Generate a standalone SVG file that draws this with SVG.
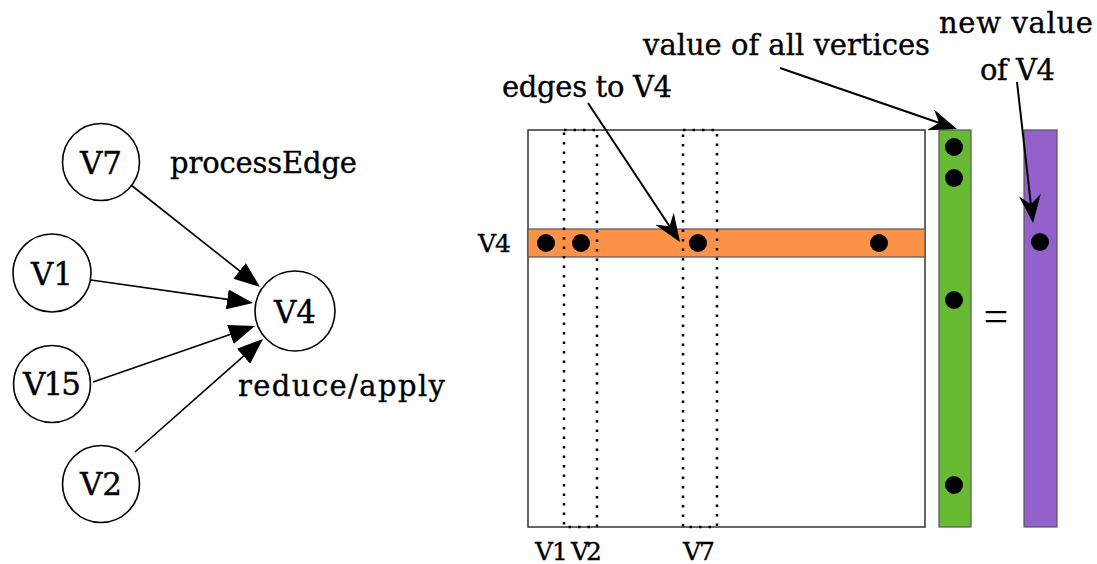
<svg xmlns="http://www.w3.org/2000/svg" width="1097" height="564" viewBox="0 0 1097 564">
<style>
text{font-family:"DejaVu Serif","Liberation Serif",serif;fill:#000;stroke:#000;stroke-width:0.35}
.node circle{fill:#fff;stroke:#000;stroke-width:1.6}
.nl{font-size:31px;text-anchor:middle}
.lbl{font-size:29px}
.sm{font-size:25px}
.edge{stroke:#000;stroke-width:1.6;fill:none}
.ptr{stroke:#000;stroke-width:2;fill:none}
.dot{fill:#000}
.dotted{fill:none;stroke:#000;stroke-width:2.5;stroke-dasharray:2.5 7}
</style>
<defs>
<marker id="tri" viewBox="0 0 26 20" refX="18" refY="10" markerWidth="26" markerHeight="20" markerUnits="userSpaceOnUse" orient="auto">
<path d="M0,0 L26,10 L0,20 Z" fill="#000"/>
</marker>
<marker id="barb" viewBox="0 0 28 22" refX="18" refY="11" markerWidth="28" markerHeight="22" markerUnits="userSpaceOnUse" orient="auto">
<path d="M28,11 L0,0 L9,11 L0,22 Z" fill="#000"/>
</marker>
</defs>
<rect width="1097" height="564" fill="#fff"/>

<g id="connectors">
<line class="edge" x1="131" y1="185" x2="253.7" y2="282" marker-end="url(#tri)"/>
<line class="edge" x1="91" y1="280" x2="245.1" y2="301.9" marker-end="url(#tri)"/>
<line class="edge" x1="93" y1="382" x2="247.4" y2="328.6" marker-end="url(#tri)"/>
<line class="edge" x1="135" y1="452" x2="257" y2="344.3" marker-end="url(#tri)"/>
</g>

<g id="node-V7" class="node"><circle cx="101" cy="162" r="38.5"/><text class="nl" x="101" y="174">V7</text></g>
<g id="node-V1" class="node"><circle cx="52" cy="273" r="39"/><text class="nl" x="52" y="285">V1</text></g>
<g id="node-V15" class="node"><circle cx="52" cy="384" r="38.5"/><text class="nl" x="52" y="395" textLength="58">V15</text></g>
<g id="node-V2" class="node"><circle cx="101" cy="484" r="38.5"/><text class="nl" x="101" y="495">V2</text></g>
<g id="node-V4" class="node"><circle cx="295" cy="311" r="40"/><text class="nl" x="295" y="323">V4</text></g>

<text class="lbl" x="170" y="173" textLength="187">processEdge</text>
<text class="lbl" x="238" y="396" textLength="207">reduce/apply</text>

<g id="matrix">
<rect x="528" y="130" width="397" height="397" fill="#fff" stroke="#333" stroke-width="1.5"/>
<rect x="528" y="229" width="397" height="28" fill="#FC9148" stroke="#555" stroke-width="1.2"/>
<rect class="dotted" x="564" y="130" width="33" height="397"/>
<rect class="dotted" x="683" y="130" width="34" height="397"/>
<circle class="dot" cx="546" cy="243" r="9"/>
<circle class="dot" cx="581" cy="243" r="9"/>
<circle class="dot" cx="698" cy="243" r="9"/>
<circle class="dot" cx="879" cy="243" r="9"/>
</g>

<g id="vector-all">
<rect x="939" y="130" width="32" height="397" fill="#66BB33" stroke="#555" stroke-width="1.2"/>
<circle class="dot" cx="954" cy="147" r="9"/>
<circle class="dot" cx="954" cy="178" r="9"/>
<circle class="dot" cx="954" cy="300" r="9"/>
<circle class="dot" cx="954" cy="485" r="9"/>
</g>

<g id="vector-new">
<rect x="1024" y="130" width="33" height="397" fill="#9360CC" stroke="#555" stroke-width="1.2"/>
<circle class="dot" cx="1040" cy="242" r="9"/>
</g>

<text x="996" y="331" font-size="44" text-anchor="middle" style="font-family:'Liberation Serif',serif;stroke:none">=</text>

<g id="pointers">
<line class="ptr" x1="588" y1="103" x2="674.5" y2="233.7" marker-end="url(#barb)"/>
<line class="ptr" x1="780" y1="68" x2="947.5" y2="125.7" marker-end="url(#barb)"/>
<line class="ptr" x1="1017" y1="82" x2="1031.9" y2="213.1" marker-end="url(#barb)"/>
</g>

<text class="lbl" x="643" y="55" textLength="287">value of all vertices</text>
<text class="lbl" x="502" y="97" textLength="170">edges to V4</text>
<text class="lbl" x="939" y="33" textLength="154">new value</text>
<text class="lbl" x="980" y="80" textLength="75">of V4</text>

<text class="sm" x="478" y="252" textLength="33">V4</text>
<text class="sm" x="535" y="560" textLength="33">V1</text>
<text class="sm" x="571" y="560" textLength="31">V2</text>
<text class="sm" x="683" y="560" textLength="32">V7</text>
</svg>
